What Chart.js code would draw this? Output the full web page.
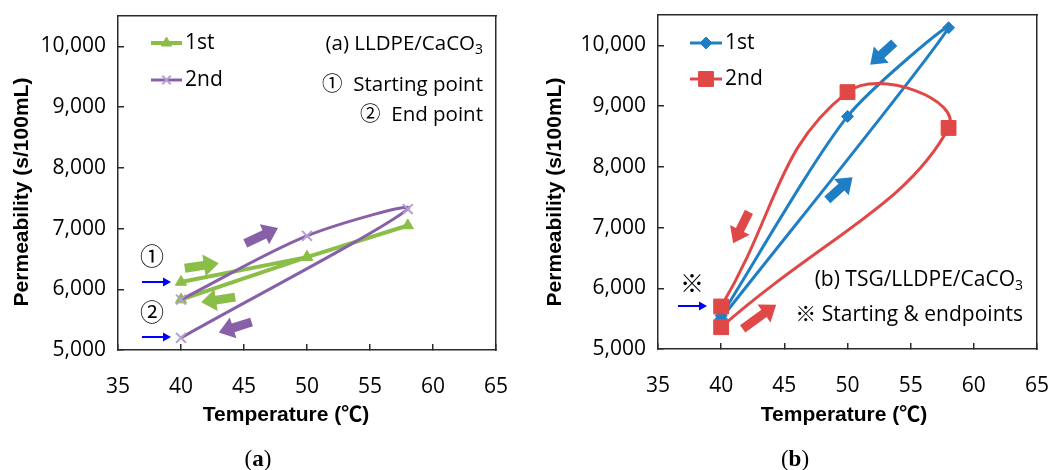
<!DOCTYPE html>
<html>
<head>
<meta charset="utf-8">
<script src="https://cdn.jsdelivr.net/npm/chart.js@4.4.1/dist/chart.umd.min.js"></script>
<style>
  body { margin: 0; background: #fff; }
  #wrap { width: 1050px; height: 470px; display: flex; }
  canvas { display: block; }
</style>
</head>
<body>
<div id="wrap">
  <canvas id="chartA" width="525" height="470"></canvas>
  <canvas id="chartB" width="525" height="470"></canvas>
</div>
<script>
// values: temperature (°C) vs permeability (s/100mL)
const xTicks = [35, 40, 45, 50, 55, 60, 65];
const yTicks = [5000, 6000, 7000, 8000, 9000, 10000];

// (a) LLDPE/CaCO3
const tempA1st = [40, 50, 58, 50, 40];
const permA1st = [6120, 6530, 7050, 6530, 5830];
const tempA2nd = [40, 50, 58, 40];
const permA2nd = [5830, 6880, 7320, 5200];

// (b) TSG/LLDPE/CaCO3
const tempB1st = [40, 58, 50, 40];
const permB1st = [5500, 10290, 8830, 5550];
const tempB2nd = [40, 58, 50, 40];
const permB2nd = [5360, 8640, 9230, 5700];

const GREEN = '#8BBE48', PURPLE = '#8760A8', BLUE = '#1F7FC4', RED = '#E04848';
const FRAME = '#2B2B2B';
const TEXT_FONT = "'Open Sans', 'Noto Sans CJK JP', sans-serif";
const TITLE_FONT = "'Liberation Sans', 'Noto Sans CJK JP', sans-serif";

function toPoints(xs, ys) {
  return xs.map((x, i) => ({ x: x, y: ys[i] }));
}

function thickArrow(ctx, x1, y1, x2, y2, color) {
  const ang = Math.atan2(y2 - y1, x2 - x1);
  const len = Math.hypot(x2 - x1, y2 - y1);
  const head = 15, half = 4.5, headHalf = 11;
  ctx.save();
  ctx.translate(x1, y1);
  ctx.rotate(ang);
  ctx.beginPath();
  ctx.moveTo(0, -half);
  ctx.lineTo(len - head, -half);
  ctx.lineTo(len - head, -headHalf);
  ctx.lineTo(len, 0);
  ctx.lineTo(len - head, headHalf);
  ctx.lineTo(len - head, half);
  ctx.lineTo(0, half);
  ctx.closePath();
  ctx.fillStyle = color;
  ctx.fill();
  ctx.restore();
}

function thinArrow(ctx, x1, x2, y) {
  ctx.save();
  ctx.strokeStyle = '#0000FF';
  ctx.fillStyle = '#0000FF';
  ctx.lineWidth = 2;
  ctx.beginPath();
  ctx.moveTo(x1, y);
  ctx.lineTo(x2 - 6, y);
  ctx.stroke();
  ctx.beginPath();
  ctx.moveTo(x2, y);
  ctx.lineTo(x2 - 8, y - 4.5);
  ctx.lineTo(x2 - 8, y + 4.5);
  ctx.closePath();
  ctx.fill();
  ctx.restore();
}

function noteText(ctx, n) {
  ctx.save();
  ctx.fillStyle = '#000';
  ctx.textBaseline = 'middle';
  ctx.font = n.size + 'px ' + TEXT_FONT;
  const w = ctx.measureText(n.text).width;
  let subW = 0;
  const subSize = Math.round(n.size * 0.68);
  if (n.sub) {
    ctx.font = subSize + 'px ' + TEXT_FONT;
    subW = ctx.measureText(n.sub).width;
  }
  let x0 = n.x;
  if (n.align === 'right') x0 = n.x - w - subW;
  if (n.align === 'center') x0 = n.x - (w + subW) / 2;
  ctx.textAlign = 'left';
  ctx.font = n.size + 'px ' + TEXT_FONT;
  ctx.fillText(n.text, x0, n.y);
  if (n.sub) {
    ctx.font = subSize + 'px ' + TEXT_FONT;
    ctx.fillText(n.sub, x0 + w, n.y + n.size * 0.3);
  }
  ctx.restore();
}

function notesPlugin(notes) {
  return {
    id: 'panelNotes',
    afterDatasetsDraw(chart) {
      const { ctx, scales } = chart;
      const x = scales.x, y = scales.y;

      // legend
      notes.legend.forEach(item => {
        ctx.save();
        ctx.strokeStyle = item.color;
        ctx.lineWidth = item.lineWidth;
        ctx.beginPath();
        ctx.moveTo(item.x1, item.y);
        ctx.lineTo(item.x2, item.y);
        ctx.stroke();
        ctx.fillStyle = item.fill;
        ctx.strokeStyle = item.border;
        ctx.lineWidth = item.borderWidth;
        Chart.helpers.drawPoint(ctx, { pointStyle: item.style, radius: item.radius, borderWidth: item.borderWidth, rotation: 0 },
          (item.x1 + item.x2) / 2, item.y);
        ctx.restore();
        noteText(ctx, { text: item.label, x: item.x2 + 3, y: item.y, size: 21, align: 'left' });
      });

      notes.texts.forEach(t => noteText(ctx, t));
      notes.pointers.forEach(p => thinArrow(ctx, p.x1, p.x2, p.y));
      notes.arrows.forEach(r => thickArrow(ctx,
        x.getPixelForValue(r.from[0]), y.getPixelForValue(r.from[1]),
        x.getPixelForValue(r.to[0]), y.getPixelForValue(r.to[1]), r.color));

      // axis titles
      ctx.save();
      ctx.fillStyle = '#000';
      ctx.font = 'bold 21px ' + TITLE_FONT;
      ctx.textAlign = 'center';
      ctx.textBaseline = 'middle';
      ctx.fillText('Temperature (℃)', notes.xTitle[0], notes.xTitle[1]);
      ctx.translate(notes.yTitle[0], notes.yTitle[1]);
      ctx.rotate(-Math.PI / 2);
      ctx.fillText('Permeability (s/100mL)', 0, 0);
      ctx.restore();

      // panel caption
      ctx.save();
      ctx.fillStyle = '#000';
      ctx.textBaseline = 'middle';
      ctx.textAlign = 'left';
      const serif = "'Liberation Serif', 'DejaVu Serif', serif";
      ctx.font = '23px ' + serif;
      const pw = ctx.measureText('(').width;
      ctx.font = 'bold 23px ' + serif;
      const lw = ctx.measureText(notes.caption).width;
      const cx = notes.captionAt[0] - (2 * pw + lw) / 2, cy = notes.captionAt[1];
      ctx.font = '23px ' + serif;
      ctx.fillText('(', cx, cy);
      ctx.fillText(')', cx + pw + lw, cy);
      ctx.font = 'bold 23px ' + serif;
      ctx.fillText(notes.caption, cx + pw, cy);
      ctx.restore();
    }
  };
}

function makePanel(id, datasets, notes) {
  const tickFont = { family: TEXT_FONT, size: 21 };
  const frame = { display: true, color: FRAME, width: 1.5 };
  // tick marks pointing into the plot (negative tick length)
  const inwardTicks = { display: true, drawOnChartArea: false, drawTicks: true, tickLength: -6, color: FRAME, lineWidth: 1.5 };
  return new Chart(document.getElementById(id), {
    type: 'scatter',
    data: { datasets: datasets },
    options: {
      responsive: false,
      animation: false,
      devicePixelRatio: 1,
      layout: { padding: { left: 0, right: notes.padRight, top: notes.padTop, bottom: 0 } },
      plugins: { legend: { display: false }, tooltip: { enabled: false } },
      scales: {
        x: {
          type: 'linear',
          min: 35,
          max: 65,
          afterBuildTicks: s => { s.ticks = xTicks.map(v => ({ value: v })); },
          afterFit: s => {
            s.height = 470 - notes.padTop - notes.plotHeight;
            s.paddingLeft = 0;
            s.paddingRight = 0;
          },
          grid: inwardTicks,
          border: frame,
          ticks: { font: tickFont, color: '#000', padding: 30 }
        },
        y: {
          type: 'linear',
          min: 5000,
          max: 10500,
          afterBuildTicks: s => { s.ticks = yTicks.map(v => ({ value: v })); },
          afterFit: s => {
            s.width = notes.plotLeft;
            s.paddingTop = 0;
            s.paddingBottom = 0;
          },
          grid: inwardTicks,
          border: frame,
          ticks: {
            font: tickFont,
            color: '#000',
            padding: 18,
            callback: v => v.toLocaleString('en-US')
          }
        },
        // top and right edges of the box
        x2: {
          type: 'linear',
          position: 'top',
          min: 35,
          max: 65,
          afterFit: s => { s.height = 0; s.paddingLeft = 0; s.paddingRight = 0; },
          grid: { display: false },
          border: frame,
          ticks: { display: false }
        },
        y2: {
          type: 'linear',
          position: 'right',
          min: 5000,
          max: 10500,
          afterFit: s => { s.width = 0; s.paddingTop = 0; s.paddingBottom = 0; },
          grid: { display: false },
          border: frame,
          ticks: { display: false }
        }
      }
    },
    plugins: [notesPlugin(notes)]
  });
}

// (a)
makePanel('chartA', [
  {
    label: '1st',
    data: toPoints(tempA1st, permA1st),
    showLine: true,
    tension: 0,
    borderColor: GREEN,
    borderWidth: 4,
    pointStyle: 'triangle',
    pointRadius: 6.5,
    pointBackgroundColor: GREEN,
    pointBorderColor: GREEN,
    pointBorderWidth: 1,
    order: 1
  },
  {
    label: '2nd',
    data: toPoints(tempA2nd, permA2nd),
    showLine: true,
    tension: 0.3,
    borderColor: PURPLE,
    borderWidth: 3,
    pointStyle: 'crossRot',
    pointRadius: 7,
    pointBorderColor: '#B79ED2',
    pointBorderWidth: 2,
    order: 0
  }
], {
  plotLeft: 118, padRight: 29, padTop: 16, plotHeight: 334,
  legend: [
    { label: '1st', x1: 151, x2: 182, y: 43, color: GREEN, lineWidth: 4, style: 'triangle', radius: 6, fill: GREEN, border: GREEN, borderWidth: 1 },
    { label: '2nd', x1: 151, x2: 182, y: 80, color: PURPLE, lineWidth: 3, style: 'crossRot', radius: 6, fill: PURPLE, border: '#B79ED2', borderWidth: 2 }
  ],
  texts: [
    { text: '(a) LLDPE/CaCO', sub: '3', x: 483, y: 44, size: 20.5, align: 'right' },
    { text: '①  Starting point', x: 483, y: 85, size: 20.5, align: 'right' },
    { text: '②  End point', x: 483, y: 115, size: 20.5, align: 'right' },
    { text: '①', x: 152, y: 258, size: 24, align: 'center' },
    { text: '②', x: 152, y: 314, size: 24, align: 'center' }
  ],
  pointers: [
    { x1: 142, x2: 171, y: 282 },
    { x1: 142, x2: 171, y: 337 }
  ],
  arrows: [
    { from: [40.3, 6346], to: [43.0, 6430], color: GREEN },
    { from: [44.3, 5870], to: [41.6, 5785], color: GREEN },
    { from: [45.1, 6757], to: [47.7, 7010], color: PURPLE },
    { from: [45.6, 5460], to: [43.0, 5290], color: PURPLE }
  ],
  xTitle: [286, 415],
  yTitle: [22, 192],
  caption: 'a',
  captionAt: [258, 460]
});

// (b)
makePanel('chartB', [
  {
    label: '1st',
    data: toPoints(tempB1st, permB1st),
    showLine: true,
    tension: 0.25,
    borderColor: BLUE,
    borderWidth: 3,
    pointStyle: 'rectRot',
    pointRadius: 6,
    pointBackgroundColor: BLUE,
    pointBorderColor: BLUE,
    pointBorderWidth: 1,
    order: 1
  },
  {
    label: '2nd',
    data: toPoints(tempB2nd, permB2nd),
    showLine: true,
    tension: 0.45,
    borderColor: RED,
    borderWidth: 3,
    pointStyle: 'rect',
    pointRadius: 10.5,
    pointBackgroundColor: RED,
    pointBorderColor: RED,
    pointBorderWidth: 1,
    order: 0
  }
], {
  plotLeft: 133, padRight: 13, padTop: 15, plotHeight: 334,
  legend: [
    { label: '1st', x1: 165, x2: 197, y: 43, color: BLUE, lineWidth: 3, style: 'rectRot', radius: 6, fill: BLUE, border: BLUE, borderWidth: 1 },
    { label: '2nd', x1: 165, x2: 197, y: 79, color: RED, lineWidth: 3, style: 'rect', radius: 10.5, fill: RED, border: RED, borderWidth: 1 }
  ],
  texts: [
    { text: '(b) TSG/LLDPE/CaCO', sub: '3', x: 498, y: 280, size: 21, align: 'right' },
    { text: '※ Starting & endpoints', x: 498, y: 315, size: 21, align: 'right' },
    { text: '※', x: 167, y: 285, size: 24, align: 'center' }
  ],
  pointers: [
    { x1: 153, x2: 182, y: 306 }
  ],
  arrows: [
    { from: [53.7, 10044], to: [51.8, 9680], color: BLUE },
    { from: [48.4, 7456], to: [50.4, 7830], color: BLUE },
    { from: [42.2, 7258], to: [40.95, 6740], color: RED },
    { from: [41.7, 5330], to: [44.35, 5730], color: RED }
  ],
  xTitle: [319, 415],
  yTitle: [30, 192],
  caption: 'b',
  captionAt: [270, 460]
});
</script>
</body>
</html>
